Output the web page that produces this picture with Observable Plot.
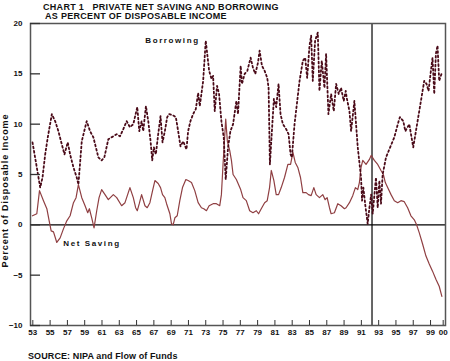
<!DOCTYPE html>
<html><head><meta charset="utf-8">
<script src="https://cdn.jsdelivr.net/npm/d3@7"></script>
<script src="https://cdn.jsdelivr.net/npm/@observablehq/plot@0.6"></script>
<style>
body{margin:0;background:#fff;font-family:"Liberation Sans",Arial,sans-serif;}
#wrap{position:relative;width:450px;height:361px;overflow:hidden;background:#fff}
#chart{position:absolute;left:0;top:0}
.t{position:absolute;z-index:2;font-weight:bold;font-size:9px;letter-spacing:0.3px;white-space:pre;color:#111;line-height:10px}
</style></head><body>
<div id="wrap">
<div id="chart"></div>
<div class="t" style="left:43px;top:2px">CHART 1   PRIVATE NET SAVING AND BORROWING</div>
<div class="t" style="left:45px;top:11px">AS PERCENT OF DISPOSABLE INCOME</div>
<div class="t" style="left:28px;top:351px;letter-spacing:0.1px">SOURCE: NIPA and Flow of Funds</div>
</div>
<script>
const borrowYears = [1952.73,1953.23,1953.62,1953.89,1954.2,1954.5,1954.97,1955.35,1955.73,1956.12,1956.43,1956.81,1957.08,1957.47,1957.85,1958.04,1958.43,1959.0,1959.39,1959.77,1960.35,1960.73,1961.04,1961.5,1962.08,1962.47,1962.85,1963.23,1963.62,1964.0,1964.39,1964.66,1964.85,1965.08,1965.35,1965.54,1965.85,1966.12,1966.39,1966.58,1966.77,1967.0,1967.27,1967.54,1967.77,1968.04,1968.31,1968.54,1968.93,1969.31,1969.58,1969.85,1970.16,1970.54,1970.73,1971.0,1971.31,1971.62,1971.89,1972.08,1972.47,1972.77,1973.16,1973.43,1973.62,1973.81,1974.08,1974.31,1974.58,1974.85,1975.08,1975.35,1975.62,1975.93,1976.31,1976.5,1976.81,1976.96,1977.27,1977.58,1977.96,1978.23,1978.5,1978.81,1979.0,1979.27,1979.58,1979.88,1980.04,1980.19,1980.42,1980.65,1980.92,1981.19,1981.42,1981.69,1982.08,1982.35,1982.58,1982.73,1983.04,1983.35,1983.62,1984.0,1984.27,1984.5,1984.77,1984.96,1985.15,1985.42,1985.73,1985.92,1986.19,1986.5,1986.69,1986.96,1987.27,1987.58,1987.85,1988.15,1988.42,1988.73,1988.96,1989.08,1989.39,1989.58,1989.96,1990.35,1990.73,1990.85,1991.0,1991.23,1991.5,1991.7,1991.9,1992.08,1992.46,1992.66,1992.85,1993.04,1993.23,1993.62,1994.0,1994.58,1995.08,1995.23,1995.62,1995.85,1996.31,1996.77,1997.27,1997.85,1998.04,1998.31,1998.54,1998.81,1999.0,1999.2,1999.39,1999.58,1999.77,2000.04];
const borrowValues = [8.2,5.7,3.7,4.7,7.0,8.7,11.0,10.3,9.3,8.0,7.0,8.2,7.0,5.7,4.7,4.0,8.3,10.3,9.3,8.7,6.7,6.4,6.7,8.5,8.8,9.0,8.8,9.5,10.3,9.7,10.0,11.0,11.7,9.3,10.3,9.3,11.8,10.3,8.3,6.4,7.7,7.0,9.0,10.8,8.2,9.3,10.7,11.0,10.9,10.7,9.3,7.8,8.3,7.5,9.3,10.3,11.0,11.5,13.1,11.8,14.3,18.3,15.3,14.5,14.8,11.3,13.8,13.0,10.3,8.7,4.5,7.7,9.3,10.0,12.3,11.0,15.8,14.0,15.0,15.3,16.6,15.6,15.0,16.1,17.3,15.8,15.3,14.6,13.6,6.0,9.3,12.5,11.7,14.0,11.0,10.0,9.5,9.0,7.0,6.7,10.0,12.3,14.3,16.3,16.6,14.6,17.8,18.8,14.3,18.3,19.1,13.3,16.3,13.6,17.0,11.0,13.0,11.3,14.0,13.0,13.6,12.3,13.3,12.6,11.3,9.3,12.3,7.7,4.7,2.4,3.7,1.9,0.1,1.7,3.0,1.1,4.7,1.7,4.4,2.1,5.0,6.7,7.5,8.7,10.3,10.7,10.3,9.3,10.0,7.7,10.3,13.3,14.3,14.0,13.3,15.3,16.6,13.0,17.0,17.8,14.3,15.0];

const savingYears = [1952.73,1953.23,1953.54,1954.0,1954.39,1954.66,1954.89,1955.16,1955.54,1955.93,1956.31,1956.7,1957.08,1957.47,1957.77,1958.04,1958.43,1958.81,1959.12,1959.31,1959.58,1959.85,1960.16,1960.43,1960.73,1961.12,1961.5,1962.08,1962.47,1963.04,1963.43,1964.0,1964.39,1964.66,1964.85,1965.08,1965.35,1965.74,1966.0,1966.31,1966.62,1966.89,1967.27,1967.54,1967.77,1968.04,1968.24,1968.43,1968.62,1968.81,1969.0,1969.2,1969.47,1969.77,1970.08,1970.47,1970.73,1971.12,1971.5,1971.89,1972.27,1972.54,1972.85,1973.16,1973.62,1974.0,1974.39,1974.58,1974.77,1975.08,1975.27,1975.54,1975.74,1975.93,1976.31,1976.81,1977.08,1977.46,1977.85,1978.23,1978.62,1978.88,1979.19,1979.58,1979.88,1980.15,1980.35,1980.65,1980.92,1981.19,1981.5,1981.88,1982.27,1982.58,1982.85,1983.12,1983.42,1983.73,1984.0,1984.38,1984.65,1984.96,1985.27,1985.54,1985.92,1986.31,1986.58,1986.81,1987.08,1987.27,1987.65,1988.04,1988.42,1988.81,1989.0,1989.39,1989.77,1990.08,1990.35,1990.54,1990.73,1990.93,1991.31,1991.7,1991.9,1992.27,1992.66,1993.04,1993.31,1993.54,1993.81,1994.2,1994.58,1994.97,1995.35,1995.73,1996.12,1996.5,1996.89,1997.16,1997.47,1997.85,1998.24,1998.62,1999.0,1999.39,1999.77,2000.08];
const savingValues = [0.9,1.1,3.4,2.4,1.6,0.4,-0.6,-0.7,-1.75,-1.3,-0.4,0.4,0.9,2.2,2.7,4.0,2.7,1.9,1.2,1.6,0.7,-0.3,1.4,2.7,3.5,3.0,2.5,3.0,2.7,1.9,2.2,3.7,2.7,1.7,1.4,2.1,3.0,1.9,1.7,2.2,3.4,4.4,4.1,3.7,3.0,2.7,2.1,1.6,1.1,0.1,0.0,0.7,0.9,2.4,3.7,4.5,4.4,4.2,3.4,2.2,1.7,1.6,1.4,1.9,2.1,2.1,1.9,3.0,6.0,10.5,8.3,7.4,6.4,5.0,4.5,3.5,2.7,2.4,1.4,1.2,1.4,1.1,1.6,2.2,2.4,3.7,5.4,4.4,3.0,3.0,3.7,4.7,6.0,6.0,7.2,6.2,5.7,4.7,3.2,3.2,3.0,2.9,3.7,3.0,2.7,3.0,2.5,2.7,1.7,1.1,1.2,2.1,1.9,1.6,1.7,2.2,2.9,3.7,3.5,4.2,5.7,6.4,6.0,6.5,6.9,6.4,6.0,5.4,5.0,4.2,3.7,3.0,2.4,2.2,2.4,2.3,1.7,0.9,0.5,0.0,-0.8,-1.9,-3.1,-3.9,-4.6,-5.4,-6.1,-7.1];

const yTicks = [-10, -5, 0, 5, 10, 15, 20];
const xTickYears = [1953,1955,1957,1959,1961,1963,1965,1967,1969,1971,1973,1975,1977,1979,1981,1983,1985,1987,1989,1991,1993,1995,1997,1999,2000];
const xTickLabels = ["53","55","57","59","61","63","65","67","69","71","73","75","77","79","81","83","85","87","89","91","93","95","97","99","00"];
const markerYear = [1992];
const yTitle = "Percent of Disposable Income";

const borrowing = borrowYears.map((y, i) => ({year: y, value: borrowValues[i]}));
const saving = savingYears.map((y, i) => ({year: y, value: savingValues[i]}));
const lastTick = xTickYears[xTickYears.length - 1];
const labelOf = d => xTickLabels[xTickYears.indexOf(d)];

const chart = Plot.plot({
  width: 450, height: 361,
  marginLeft: 30, marginRight: 5, marginTop: 23, marginBottom: 36,
  style: {fontFamily: "'Liberation Sans', Arial, sans-serif", fontSize: "8px", fontWeight: "bold", color: "#111", background: "transparent"},
  x: {domain: [1952.5, 2000.5], label: null},
  y: {domain: [-10, 20], label: null},
  marks: [
    Plot.ruleY([0], {stroke: "#000", strokeWidth: 1.2}),
    Plot.ruleX(markerYear, {stroke: "#000", strokeWidth: 1.2}),
    Plot.lineY(saving, {x: "year", y: "value", stroke: "#8f3f42", strokeWidth: 1.2}),
    Plot.lineY(borrowing, {x: "year", y: "value", stroke: "#4a0a18", strokeWidth: 1.8, strokeDasharray: "1.8,2.6"}),
    Plot.frame({stroke: "#555", strokeWidth: 1.5}),
    Plot.axisY(yTicks, {anchor: "left", label: null, tickSize: -10, tickPadding: 18, stroke: "#333", strokeWidth: 1.3, fontSize: 8, fontWeight: "bold"}),
    Plot.axisX(xTickYears.filter(d => d !== lastTick), {anchor: "bottom", label: null, tickSize: -5, tickPadding: 9, dx: -2, stroke: "#333", fontSize: 8, fontWeight: "bold", tickFormat: labelOf}),
    Plot.axisX([lastTick], {anchor: "bottom", label: null, tickSize: -5, tickPadding: 9, dx: 2, stroke: "#333", fontSize: 8, fontWeight: "bold", tickFormat: labelOf}),
    Plot.text([yTitle], {frameAnchor: "left", textAnchor: "middle", rotate: -90, dx: -25, dy: 16, fontSize: 9, fontWeight: "bold", fill: "#111"}),
    Plot.text(["Borrowing"], {x: 1968.92, y: 18.31, fontSize: 8, fontWeight: "bold", fill: "#111"}),
    Plot.text(["Net Saving"], {x: 1959.61, y: -1.85, fontSize: 8, fontWeight: "bold", fill: "#111"})
  ]
});
const svg = d3.select(chart);
svg.selectAll("text").filter(function(){ return this.textContent === "Borrowing" || this.textContent === "Net Saving"; })
  .attr("letter-spacing", "1.6px");
svg.selectAll("text").filter(function(){ return this.textContent === yTitle; })
  .attr("letter-spacing", "0.9px");
document.getElementById("chart").appendChild(chart);
</script>
</body></html>
